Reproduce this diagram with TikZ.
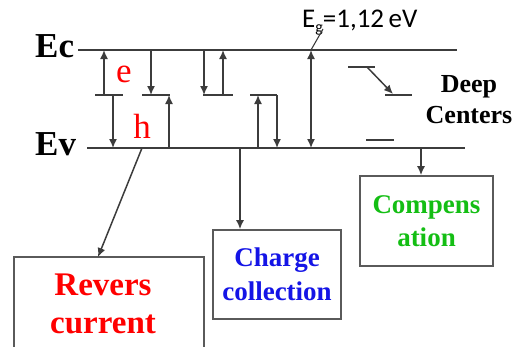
\documentclass[tikz,border=0pt]{standalone}
\usepackage{fontspec}
\setmainfont{Liberation Serif}
\newfontfamily\calib{Carlito}
\usetikzlibrary{arrows.meta,calc}
\definecolor{lincol}{RGB}{60,60,60}
\definecolor{boxcol}{RGB}{90,90,90}
\definecolor{myred}{RGB}{255,0,0}
\definecolor{myblue}{RGB}{20,20,230}
\definecolor{mygreen}{RGB}{20,190,20}
\tikzset{
  band/.style={lincol, line width=1.7pt},
  lvl/.style={lincol, line width=1.7pt},
  tr/.style={lincol, line width=1.5pt, -{Latex[length=9pt,width=8pt]}},
  trr/.style={lincol, line width=1.5pt, {Latex[length=9pt,width=8pt]}-{Latex[length=9pt,width=8pt]}},
  box/.style={draw=boxcol, line width=1.6pt, rectangle, inner sep=0pt, align=center},
  bandlbl/.style={font=\fontsize{35}{35}\selectfont\bfseries, inner sep=0pt, anchor=base west},
  carrier/.style={font=\fontsize{35}{35}\selectfont, text=myred, inner sep=0pt, anchor=base},
}
\begin{document}
\begin{tikzpicture}[x=1pt,y=-1pt]
\useasboundingbox (0,0) rectangle (521,346);
% band edges
\coordinate (ec0) at (78,50);  \coordinate (ec1) at (457,50);
\coordinate (ev0) at (87,148); \coordinate (ev1) at (465,148);
\draw[band] (ec0) -- (ec1);
\draw[band] (ev0) -- (ev1);
\node[bandlbl] (eclbl) at (35,57) {Ec};
\node[bandlbl] (evlbl) at (35,155) {Ev};
% level 1
\coordinate (l1a) at (95,95); \coordinate (l1b) at (123,95);
\draw[lvl] (l1a) -- (l1b);
\coordinate (a1s) at (104,95); \coordinate (a1e) at (104,50);
\coordinate (a2s) at (113,95); \coordinate (a2e) at (113,148);
\draw[tr] (a1s) -- (a1e);
\draw[tr] (a2s) -- (a2e);
\node[carrier] (e) at (124,82) {e};
\node[carrier] (h) at (142,138) {h};
% level 2
\coordinate (l2a) at (142,95); \coordinate (l2b) at (170,95);
\draw[lvl] (l2a) -- (l2b);
\coordinate (a3s) at (151,50); \coordinate (a3e) at (151,95);
\coordinate (a4s) at (169,148); \coordinate (a4e) at (169,95);
\draw[tr] (a3s) -- (a3e);
\draw[tr] (a4s) -- (a4e);
% level 3
\coordinate (l3a) at (203,95); \coordinate (l3b) at (233,95);
\draw[lvl] (l3a) -- (l3b);
\coordinate (a5s) at (204,50); \coordinate (a5e) at (204,95);
\coordinate (a6s) at (223,95); \coordinate (a6e) at (223,50);
\draw[tr] (a5s) -- (a5e);
\draw[tr] (a6s) -- (a6e);
% level 4
\coordinate (l4a) at (250,95); \coordinate (l4b) at (277,95);
\draw[lvl] (l4a) -- (l4b);
\coordinate (a7s) at (258,148); \coordinate (a7e) at (258,95);
\coordinate (a8s) at (277,95); \coordinate (a8e) at (277,148);
\draw[tr] (a7s) -- (a7e);
\draw[tr] (a8s) -- (a8e);
% band gap
\coordinate (gbot) at (311,148); \coordinate (gtop) at (311,50);
\draw[trr] (gbot) -- (gtop);
\node[font=\calib\fontsize{27}{27}\selectfont, inner sep=0pt, anchor=base west] (eg) at (302,27)
  {E\raisebox{-0.22em}{\fontsize{16}{16}\selectfont g}=1,12\,eV};
\coordinate (egfoot) at (323,29);
\draw[lincol, line width=1.1pt] (egfoot) -- (gtop);
% deep centers
\coordinate (d1a) at (348,67); \coordinate (d1b) at (375,67);
\draw[lvl] (d1a) -- (d1b);
\coordinate (d2a) at (385,95); \coordinate (d2b) at (412,95);
\draw[lvl] (d2a) -- (d2b);
\coordinate (das) at (367,67); \coordinate (dae) at (393,94);
\draw[tr] (das) -- (dae);
\coordinate (d3a) at (366,140); \coordinate (d3b) at (394,140);
\draw[lvl] (d3a) -- (d3b);
\node[font=\fontsize{26}{31}\selectfont\bfseries, align=center, inner sep=0pt, anchor=base] (deep) at (469,123) {Deep\\Centers};
% boxes
\node[box, minimum width=190pt, minimum height=93pt, text=myred,
      font=\fontsize{33}{38}\selectfont\bfseries] (rev) at (109,303.5) {Revers\hspace*{12pt}\\current\hspace*{12pt}};
\node[box, minimum width=128pt, minimum height=89pt, text=myblue,
      font=\fontsize{27}{34}\selectfont\bfseries] (chg) at (277,274.5) {Charge\\collection};
\node[box, minimum width=133pt, minimum height=90pt, text=mygreen,
      font=\fontsize{27}{33}\selectfont\bfseries] (cmp) at (426.5,221) {Compens\\ation};
% connectors to boxes
\coordinate (rsrc) at (142,148); \coordinate (rdst) at (98,257);
\draw[tr] (rsrc) -- (rdst);
\coordinate (csrc) at (240,148);
\draw[tr] (csrc) -- (chg.north -| csrc);
\coordinate (msrc) at (421,148);
\draw[tr] (msrc) -- (cmp.north -| msrc);
\end{tikzpicture}
\end{document}
